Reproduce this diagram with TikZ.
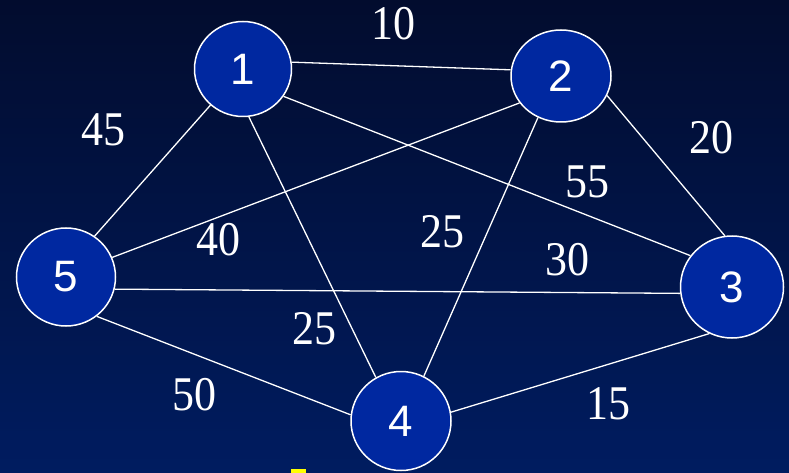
\documentclass[tikz,border=0pt]{standalone}
\usepackage{fontspec}
\setmainfont{Liberation Serif}
\newfontfamily\numfont{Liberation Sans}
\usetikzlibrary{shapes.geometric}
\definecolor{bgtop}{RGB}{2,12,46}
\definecolor{bgbot}{RGB}{0,28,96}
\definecolor{nodefill}{RGB}{0,40,160}
\definecolor{markyellow}{RGB}{255,255,0}
\newcommand{\wlab}[1]{\scalebox{1}[1.1]{#1}}
\tikzset{
  vert/.style={ellipse, draw=white, line width=1.5pt, fill=nodefill, text=white,
    inner sep=0pt, font=\numfont\fontsize{44}{48}\selectfont},
  edge/.style={draw=white, line width=1.3pt},
  wlabel/.style={text=white, inner sep=0pt, font=\fontsize{44}{48}\selectfont}
}
\begin{document}
\begin{tikzpicture}[x=1pt,y=-1pt]
\shade[top color=bgtop, bottom color=bgbot] (0,0) rectangle (789,473);
\useasboundingbox (0,0) rectangle (789,473);
\node[vert, minimum width=97pt, minimum height=95pt] (n1) at (243,69) {1};
\node[vert, minimum width=100pt, minimum height=92pt] (n2) at (561,76) {2};
\node[vert, minimum width=103pt, minimum height=102pt] (n3) at (732,287) {3};
\node[vert, minimum width=100pt, minimum height=99pt] (n4) at (401,421) {4};
\node[vert, minimum width=99pt, minimum height=98pt] (n5) at (66,277) {5};
\draw[edge] (n1.8) -- (n2.173);
\draw[edge] (n1.228) -- (n5.55);
\draw[edge] (n1.277) -- (n4.120);
\draw[edge] (n1.326) -- (n3.143);
\draw[edge] (n2.213) -- (n5.23);
\draw[edge] (n2.241) -- (n4.63);
\draw[edge] (n2.337) -- (n3.98);
\draw[edge] (n5.346) -- (n3.187);
\draw[edge] (n5.308) -- (n4.173);
\draw[edge] (n4.10) -- (n3.244);
\node[wlabel] (l12) at (393,24) {\wlab{10}};
\node[wlabel] (l15) at (103,130) {\wlab{45}};
\node[wlabel] (l23) at (711,138) {\wlab{20}};
\node[wlabel] (l13) at (587,182) {\wlab{55}};
\node[wlabel] (l25) at (218,240) {\wlab{40}};
\node[wlabel] (l24) at (442,232) {\wlab{25}};
\node[wlabel] (l53) at (567,260) {\wlab{30}};
\node[wlabel] (l14) at (314,329) {\wlab{25}};
\node[wlabel] (l54) at (194,395) {\wlab{50}};
\node[wlabel] (l43) at (608,404) {\wlab{15}};
\fill[markyellow] (291,469) rectangle (306,473);
\end{tikzpicture}
\end{document}
